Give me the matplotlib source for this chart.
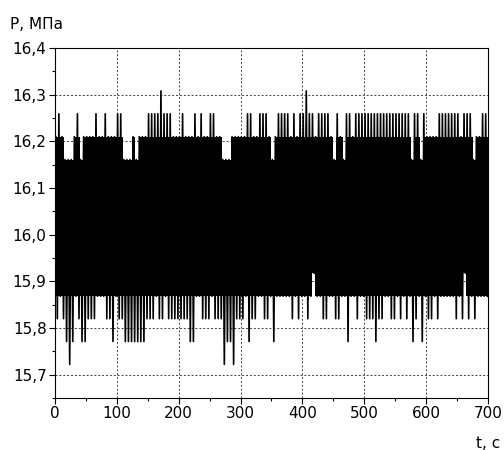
import numpy as np
import matplotlib
matplotlib.use("Agg")
import matplotlib.pyplot as plt
from matplotlib.ticker import MultipleLocator, FuncFormatter

plt.rcParams["font.family"] = ["DejaVu Sans"]

# quantised pressure levels of the sensor, MPa
LEVELS = [15.722, 15.771, 15.820, 15.868, 15.917, 15.966, 16.015,
          16.064, 16.112, 16.161, 16.210, 16.259, 16.308]

# per 5 s window: highest and lowest level index reached
BIN_S = 5
HI_IDX = [
    10, 11, 10, 9, 9, 9, 10, 11, 9, 10,
    10, 10, 10, 11, 10, 10, 11, 10, 10, 10,
    11, 11, 9, 9, 9, 10, 9, 10, 10, 10,
    11, 11, 11, 11, 12, 11, 11, 11, 10, 10,
    10, 11, 10, 10, 10, 11, 10, 11, 10, 10,
    11, 11, 10, 10, 9, 9, 9, 10, 10, 10,
    10, 10, 11, 11, 10, 10, 11, 11, 11, 10,
    9, 10, 11, 11, 11, 11, 10, 11, 10, 11,
    11, 12, 11, 11, 10, 11, 11, 11, 11, 10,
    9, 11, 10, 9, 11, 11, 10, 11, 11, 11,
    11, 11, 11, 11, 11, 11, 11, 11, 11, 11,
    11, 11, 11, 11, 11, 9, 11, 11, 9, 11,
    10, 10, 10, 10, 11, 11, 11, 11, 11, 11,
    11, 10, 11, 11, 11, 9, 10, 10, 11, 11,
]
LO_IDX = [
    2, 3, 2, 1, 0, 1, 3, 2, 1, 1,
    2, 2, 2, 3, 3, 3, 2, 2, 1, 3,
    2, 2, 1, 1, 1, 1, 1, 1, 1, 2,
    2, 2, 3, 2, 2, 3, 2, 2, 2, 2,
    2, 2, 2, 1, 1, 3, 3, 2, 2, 2,
    3, 2, 2, 2, 0, 1, 1, 0, 2, 2,
    2, 3, 1, 2, 2, 3, 3, 2, 2, 3,
    1, 3, 3, 3, 3, 3, 2, 3, 2, 3,
    3, 2, 3, 4, 3, 3, 2, 2, 3, 3,
    2, 2, 3, 3, 1, 3, 3, 2, 3, 3,
    2, 2, 2, 1, 2, 2, 3, 3, 2, 2,
    3, 2, 3, 2, 3, 1, 2, 3, 1, 3,
    2, 2, 3, 2, 3, 3, 3, 3, 3, 2,
    3, 2, 4, 2, 3, 2, 3, 3, 3, 3,
]
CORE_TOP, CORE_BOT = 10, 3   # band the trace fills almost solidly

X_TICKS = [0, 100, 200, 300, 400, 500, 600, 700]
Y_TICKS = [15.7, 15.8, 15.9, 16.0, 16.1, 16.2, 16.3, 16.4]

levels = np.array(LEVELS)
hi_idx = np.array(HI_IDX)
lo_idx = np.array(LO_IDX)
hi = levels[hi_idx]
lo = levels[lo_idx]
t0 = np.arange(len(HI_IDX)) * BIN_S

# solid core of the band, window by window
core_hi = levels[np.minimum(hi_idx, CORE_TOP)]
core_lo = levels[np.maximum(lo_idx, CORE_BOT)]
edges = np.append(t0, t0[-1] + BIN_S)

# zigzag trace: max then min inside every window (gives the thin spikes)
t = np.column_stack([t0 + 0.25 * BIN_S, t0 + 0.75 * BIN_S]).ravel()
p = np.column_stack([hi, lo]).ravel()

fig = plt.figure(figsize=(5.04, 4.5), dpi=100)
ax = fig.add_axes([55 / 504, 52 / 450, 433 / 504, 350 / 450])

ax.fill_between(edges, np.append(core_lo, core_lo[-1]), np.append(core_hi, core_hi[-1]),
                step="post", color="black", linewidth=0, zorder=2)
ax.plot(t, p, color="black", linewidth=1.2, zorder=3)

ax.set_xlim(0, 700)
ax.set_ylim(15.65, 16.4)
ax.set_xticks(X_TICKS)
ax.set_yticks(Y_TICKS)
ax.xaxis.set_minor_locator(MultipleLocator(50))
ax.yaxis.set_minor_locator(MultipleLocator(0.05))
ax.yaxis.set_major_formatter(FuncFormatter(lambda v, pos: f"{v:.1f}".replace(".", ",")))

ax.grid(True, which="major", color="0.25", linestyle=(0, (2, 2)), linewidth=0.7)
ax.tick_params(which="both", direction="out", top=False, right=False,
               labelsize=11, width=0.8, colors="black")
ax.tick_params(which="major", length=4, pad=2)
ax.tick_params(which="minor", length=2.5)
for s in ax.spines.values():
    s.set_linewidth(0.8)

fig.text(10 / 504, 1 - 29 / 450, "P, МПа", fontsize=11, va="baseline", ha="left")
fig.text(500 / 504, 1 - 448 / 450, "t, с", fontsize=11, va="baseline", ha="right")

fig.savefig("out.png", dpi=100)
